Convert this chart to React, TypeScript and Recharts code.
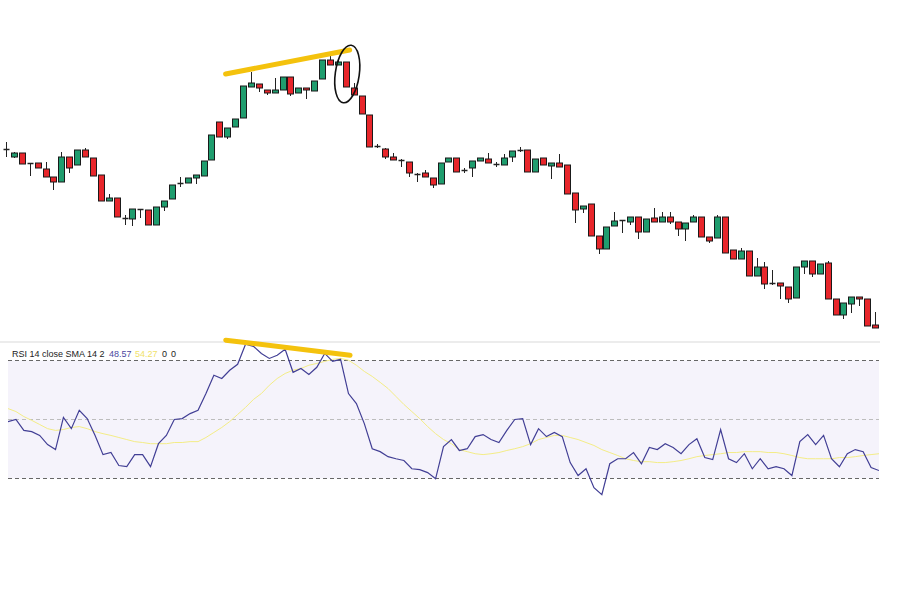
import React from 'react';
import { ComposedChart, Bar, Line, XAxis, YAxis, ReferenceLine, ReferenceArea, ReferenceDot } from 'recharts';

// price candles (arbitrary price units), one entry per session
const opens = [
  201, 193, 197, 187, 187, 181, 173, 168, 193, 185,
  200, 192, 175, 149, 152, 132, 131, 141, 140, 125,
  143, 151, 167, 167, 172, 174, 190, 228, 213, 223,
  232, 263, 266, 260, 257, 260, 273, 257, 262, 259,
  271, 290, 285, 288, 262, 254, 235, 204, 201, 193,
  190, 188, 176, 177, 172, 166, 188, 192, 180, 182,
  189, 191, 186, 185, 193, 200, 200, 178, 192, 184,
  187, 185, 157, 141, 146, 114, 101, 124, 130, 128,
  133, 118, 132, 128, 133, 128, 121, 128, 133, 113,
  112, 133, 100, 91, 99, 74, 83, 67, 67, 63,
  52, 83, 89, 76, 87, 51, 35, 46, 53, 51,
  25,
];
const highs = [
  208, 198, 197, 187, 187, 188, 173, 198, 193, 200,
  202, 192, 175, 156, 152, 135, 141, 141, 140, 143,
  149, 165, 173, 172, 175, 189, 215, 228, 222, 231,
  264, 278, 266, 260, 272, 273, 273, 262, 262, 269,
  290, 294, 291, 288, 267, 254, 235, 206, 202, 197,
  191, 188, 177, 180, 172, 187, 192, 192, 182, 189,
  192, 197, 188, 196, 199, 203, 200, 191, 192, 187,
  196, 185, 157, 144, 146, 114, 123, 138, 130, 133,
  133, 131, 142, 138, 138, 128, 127, 135, 133, 113,
  135, 133, 100, 102, 99, 92, 88, 80, 67, 63,
  83, 89, 89, 86, 89, 51, 47, 53, 53, 51,
  38,
];
const lows = [
  193, 192, 186, 174, 182, 173, 160, 168, 177, 185,
  193, 174, 149, 149, 133, 125, 124, 132, 125, 125,
  139, 151, 163, 167, 166, 174, 190, 213, 211, 223,
  232, 263, 258, 255, 257, 260, 254, 257, 251, 259,
  271, 285, 285, 263, 255, 236, 203, 202, 191, 190,
  183, 173, 168, 173, 162, 166, 188, 178, 177, 173,
  189, 187, 183, 185, 188, 198, 178, 178, 185, 171,
  183, 156, 127, 137, 114, 96, 101, 124, 117, 125,
  111, 118, 128, 128, 126, 114, 109, 128, 113, 107,
  112, 97, 91, 91, 74, 74, 61, 65, 51, 47,
  52, 76, 73, 76, 51, 35, 31, 37, 44, 24,
  22,
];
const closes = [
  200, 197, 186, 186, 182, 173, 168, 193, 182, 200,
  193, 174, 149, 152, 133, 131, 141, 140, 125, 143,
  149, 165, 166, 172, 175, 189, 215, 213, 222, 231,
  264, 267, 262, 257, 260, 273, 256, 262, 260, 269,
  290, 285, 288, 263, 255, 236, 203, 203, 193, 190,
  189, 177, 175, 173, 165, 187, 192, 178, 179, 189,
  192, 187, 185, 192, 199, 199, 178, 191, 185, 187,
  183, 156, 140, 144, 114, 101, 123, 129, 129, 133,
  118, 131, 128, 133, 128, 121, 127, 133, 113, 109,
  133, 97, 91, 99, 74, 83, 66, 66, 64, 51,
  83, 89, 76, 86, 51, 35, 47, 53, 51, 24,
  22,
];

// RSI 14 and its SMA 14
const rsi = [
  49.3, 50, 46.3, 45.9, 44.6, 41.5, 39.8, 50.7, 46.9, 53.1,
  50.3, 44.6, 38.1, 38.8, 34.4, 34.0, 38.1, 38.1, 34.0, 41.8,
  44.6, 50, 50.3, 52.0, 53.1, 58.8, 65.0, 63.9, 66.7, 68.7,
  75.5, 74.8, 72.4, 70.7, 71.8, 73.8, 66.0, 67.3, 65.3, 67.7,
  72.4, 69.7, 70.4, 58.8, 55.4, 48.6, 40.1, 39.1, 37.4, 36.7,
  36.1, 33.3, 33.0, 32.0, 29.9, 40.8, 43.2, 39.5, 40.1, 44.2,
  44.9, 43.2, 42.2, 46.3, 50, 50.3, 41.5, 46.9, 44.2, 45.6,
  44.2, 35.4, 31.0, 33.3, 26.9, 24.5, 35.0, 36.7, 36.7, 38.8,
  35.0, 40.5, 39.8, 41.8, 40.5, 38.4, 41.5, 43.5, 37.1, 36.4,
  46.6, 36.7, 35.4, 38.4, 33.3, 36.7, 33.3, 34.0, 33.3, 31.0,
  42.5, 44.9, 41.5, 44.6, 36.7, 34.0, 38.4, 39.8, 39.1, 33.7,
  32.7,
];
const rsiSma = [
  53.7, 52.7, 51.0, 49.7, 48.3, 46.9, 46.3, 46.6, 47.3, 47.6,
  46.9, 45.9, 45.2, 44.6, 43.9, 43.2, 42.5, 42.2, 41.8, 41.8,
  41.8, 42.2, 42.2, 42.5, 42.5, 43.9, 45.6, 47.3, 49.3, 51.7,
  54.1, 56.8, 58.8, 61.6, 63.9, 65.6, 66.7, 67.3, 68.4, 69.0,
  69.7, 70.4, 70.7, 70.1, 68.4, 66.3, 64.6, 62.6, 60.5, 57.8,
  55.1, 52.7, 50.3, 47.6, 45.2, 43.2, 41.8, 39.8, 39.1, 38.4,
  38.1, 38.4, 38.8, 39.5, 40.1, 40.8, 41.8, 43.2, 43.9, 44.6,
  44.6, 43.9, 43.2, 42.2, 41.2, 39.8, 38.8, 37.8, 36.7, 36.1,
  35.7, 35.7, 35.4, 35.4, 35.7, 36.1, 36.7, 37.4, 37.8, 38.1,
  38.4, 38.8, 38.8, 39.1, 39.1, 39.1, 38.8, 38.8, 38.4, 37.8,
  37.1, 36.7, 36.7, 36.7, 36.7, 37.1, 37.1, 37.4, 37.8, 38.1,
  38.4,
];

const UP = '#1f9d6e';
const DOWN = '#e8262b';
const GOLD = '#f4c20d';

const candles = opens.map((o, i) => ({
  i,
  open: o,
  high: highs[i],
  low: lows[i],
  close: closes[i],
  range: [lows[i], highs[i]],
}));

const rsiData = rsi.map((v, i) => ({ i, rsi: v, sma: rsiSma[i] }));

const Candle = (props: any) => {
  const { x, y, width, height } = props;
  const p = props.payload || props;
  const top = Math.min(y, y + height);
  const h = Math.abs(height);
  const ratio = h / (p.high - p.low);
  const cx = Math.round(x + width / 2) + 0.5;
  const yOpen = top + (p.high - p.open) * ratio;
  const yClose = top + (p.high - p.close) * ratio;
  const bTop = Math.min(yOpen, yClose);
  const bBot = Math.max(yOpen, yClose);
  const isDoji = Math.abs(p.close - p.open) < 1.5;
  return (
    <g>
      <line x1={cx} x2={cx} y1={top} y2={top + h} stroke="#222" strokeWidth={1} />
      {isDoji ? (
        <line x1={cx - 3} x2={cx + 3} y1={(bTop + bBot) / 2} y2={(bTop + bBot) / 2} stroke="#222" strokeWidth={1.5} />
      ) : (
        <rect
          x={cx - 3}
          y={bTop}
          width={6}
          height={bBot - bTop}
          fill={p.close > p.open ? UP : DOWN}
          stroke="#1a1a1a"
          strokeWidth={1}
        />
      )}
    </g>
  );
};

const CircleMark = (props: any) => {
  const { cx, cy } = props;
  return (
    <ellipse
      cx={cx}
      cy={cy}
      rx={12}
      ry={29}
      fill="none"
      stroke="#111"
      strokeWidth={1.6}
      transform={`rotate(8 ${cx} ${cy})`}
    />
  );
};

const labelFont = '"Liberation Sans", Arial, sans-serif';

export default function App() {
  return (
    <div style={{ position: 'absolute', left: 0, top: 0, width: 900, height: 600, background: '#fff', overflow: 'hidden' }}>
      {/* price pane */}
      <div style={{ position: 'absolute', left: 2, top: 0 }}>
        <ComposedChart width={877} height={340} data={candles} margin={{ top: 0, right: 0, bottom: 0, left: 0 }}>
          <XAxis dataKey="i" type="number" domain={[-0.5, 110.5]} hide />
          <YAxis type="number" domain={[10, 350]} hide allowDataOverflow />
          <Bar dataKey="range" barSize={6} shape={<Candle />} isAnimationActive={false} />
          <ReferenceLine
            segment={[{ x: 27.8, y: 276 }, { x: 43.5, y: 300 }]}
            stroke={GOLD}
            strokeWidth={5}
            strokeLinecap="round"
          />
          <ReferenceDot x={43.2} y={276} r={1} shape={<CircleMark />} />
        </ComposedChart>
      </div>

      {/* pane separator */}
      <div style={{ position: 'absolute', left: 0, top: 341, width: 880, height: 2, background: '#ececec' }} />

      {/* RSI pane */}
      <div style={{ position: 'absolute', left: 8, top: 331 }}>
        <ComposedChart width={871} height={177} data={rsiData} margin={{ top: 0, right: 0, bottom: 0, left: 0 }}>
          <XAxis dataKey="i" type="number" domain={[0, 110]} hide />
          <YAxis type="number" domain={[20, 80]} hide allowDataOverflow />
          <ReferenceArea y1={30} y2={70} fill="#f5f3fb" fillOpacity={1} stroke="none" />
          <ReferenceLine y={70} stroke="#666" strokeDasharray="4 3" />
          <ReferenceLine y={50} stroke="#bdbdbd" strokeDasharray="4 3" />
          <ReferenceLine y={30} stroke="#666" strokeDasharray="4 3" />
          <Line type="linear" dataKey="sma" stroke="#f3ec86" strokeWidth={1} dot={false} isAnimationActive={false} />
          <Line type="linear" dataKey="rsi" stroke="#423f95" strokeWidth={1.2} dot={false} isAnimationActive={false} />
          <ReferenceLine
            segment={[{ x: 27.5, y: 76.9 }, { x: 43.2, y: 71.8 }]}
            stroke={GOLD}
            strokeWidth={5}
            strokeLinecap="round"
          />
        </ComposedChart>
      </div>

      {/* RSI legend */}
      <div style={{ position: 'absolute', left: 0, top: 349, fontFamily: labelFont, fontSize: 9, lineHeight: '10px', whiteSpace: 'nowrap' }}>
        <span style={{ position: 'absolute', left: 12, color: '#222' }}>RSI 14 close SMA 14 2</span>
        <span style={{ position: 'absolute', left: 109, color: '#4a47a0' }}>48.57</span>
        <span style={{ position: 'absolute', left: 135, color: '#f0e26a' }}>54.27</span>
        <span style={{ position: 'absolute', left: 162, color: '#222' }}>0</span>
        <span style={{ position: 'absolute', left: 171, color: '#222' }}>0</span>
      </div>
    </div>
  );
}
